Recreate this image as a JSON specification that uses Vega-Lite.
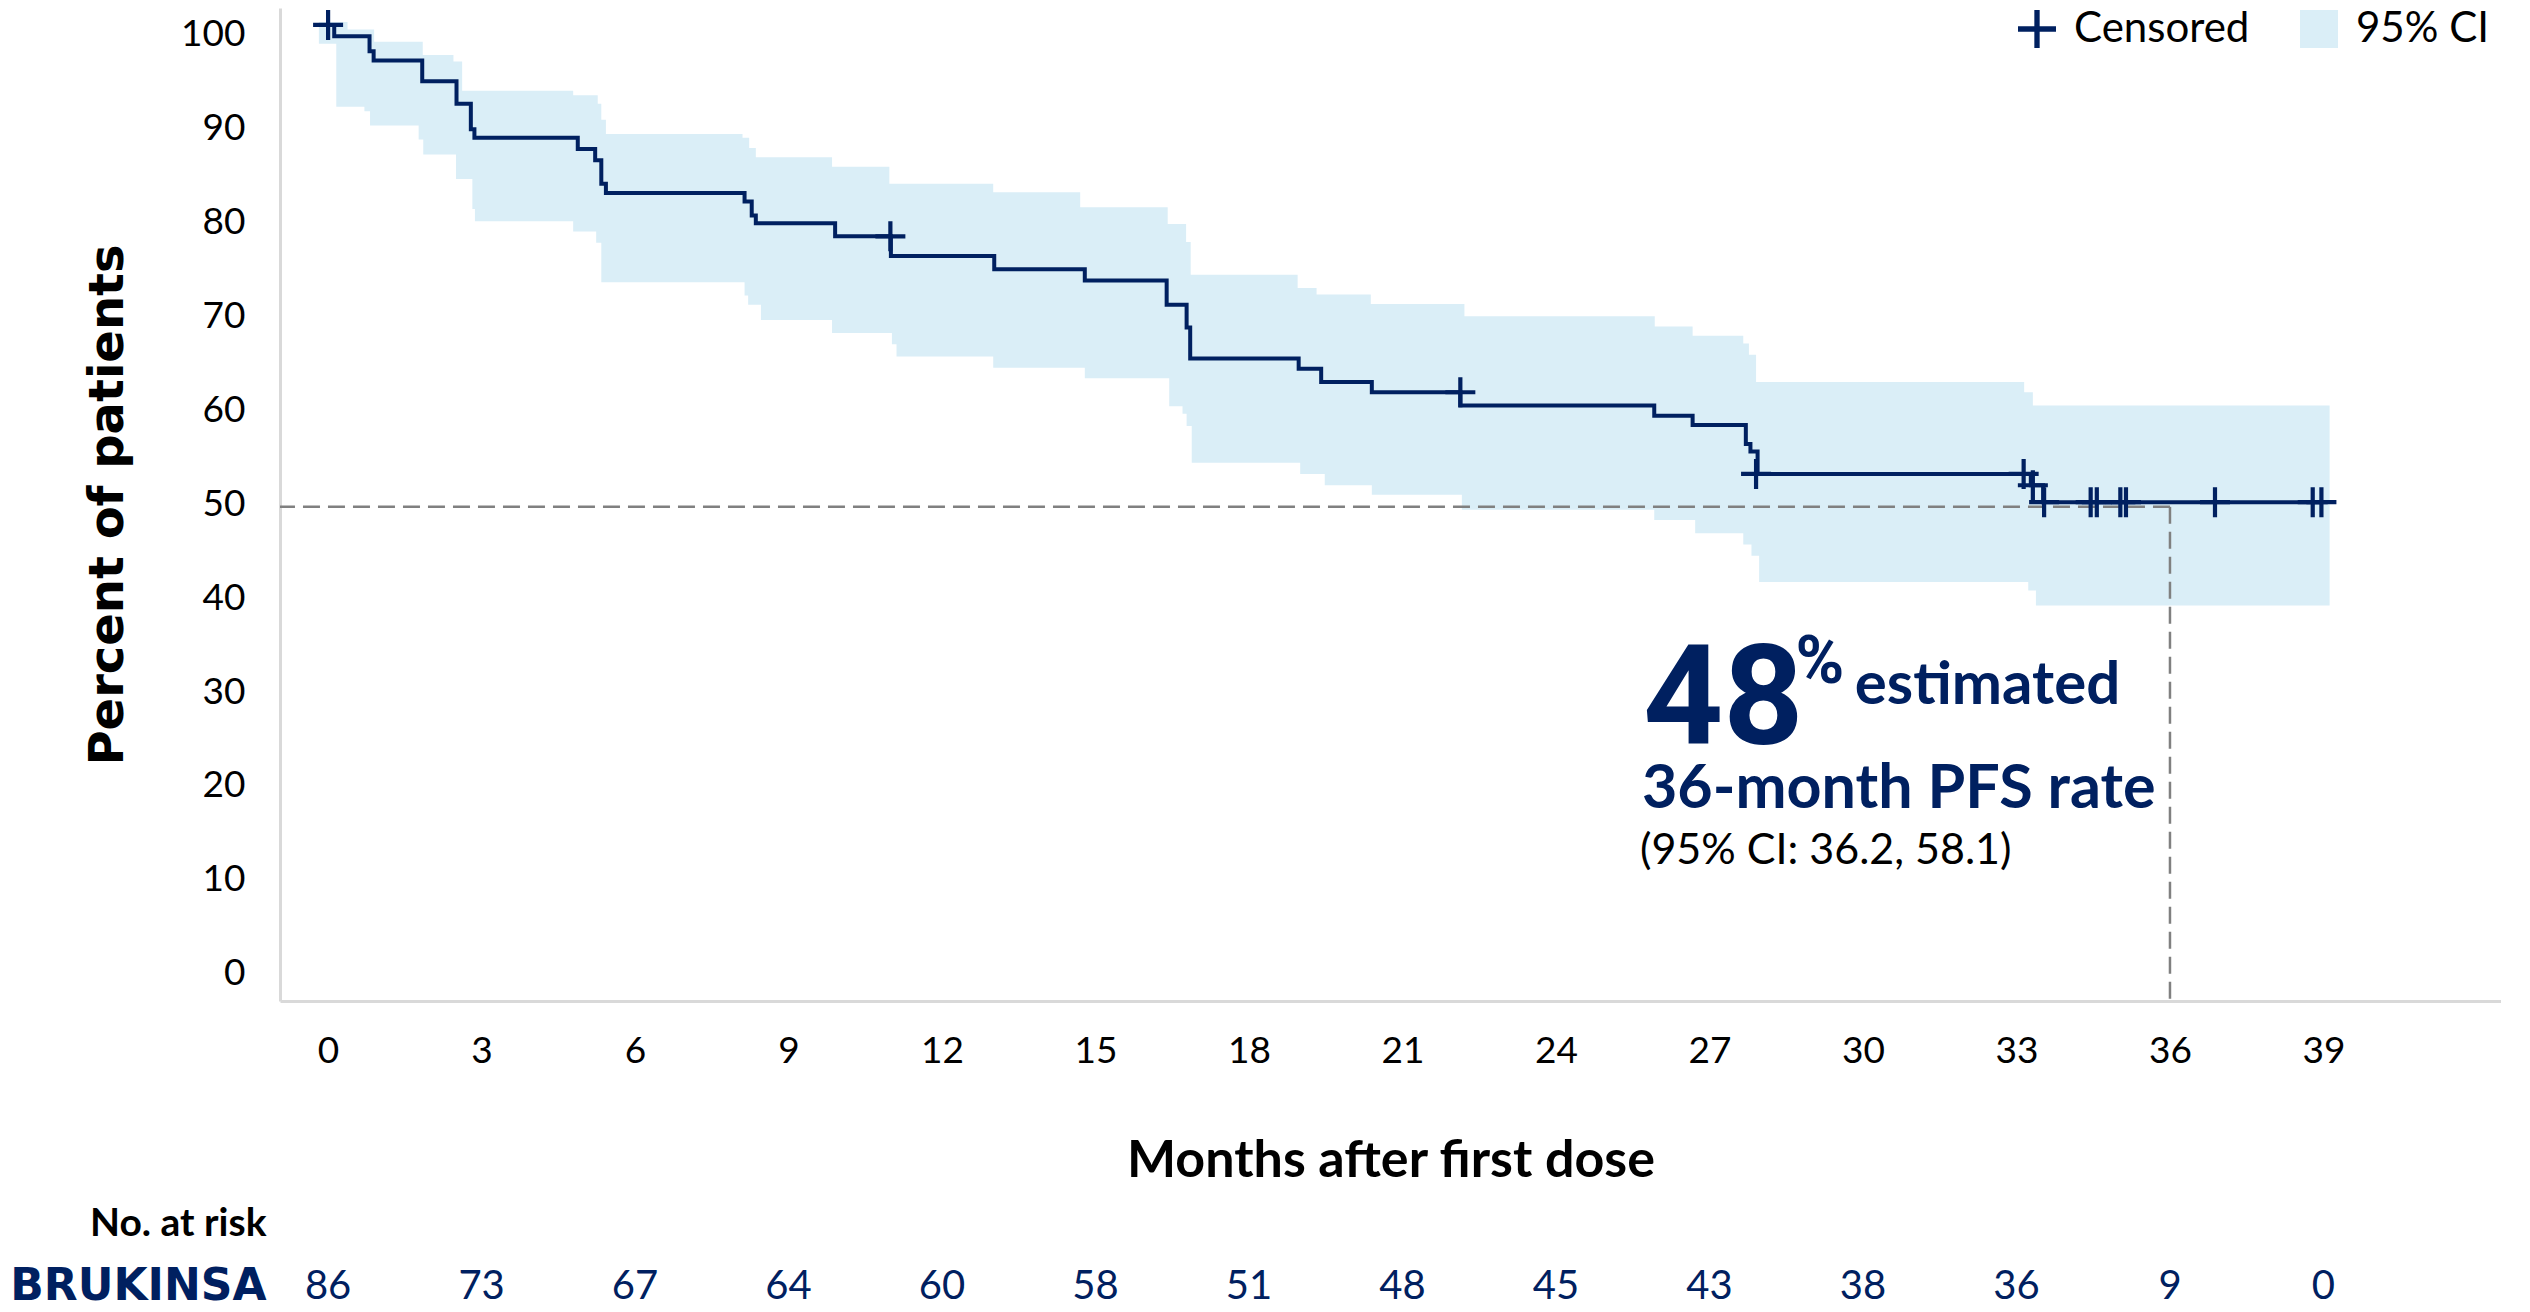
{
  "$schema": "https://vega.github.io/schema/vega-lite/v6.json",
  "background": "white",
  "padding": {"left": 9, "top": 8, "right": 0, "bottom": 0},
  "spacing": 6,
  "config": {
    "view": {"stroke": null},
    "font": "Lato",
    "axis": {"grid": false, "ticks": false, "domainColor": "#d9d9d9", "domainWidth": 3},
    "axisX": {"labelFont": "Lato", "labelFontSize": 37, "labelColor": "#000000", "labelPadding": 32, "titleFont": "Lato", "titleFontSize": 52, "titleFontWeight": "bold", "titleColor": "#000000", "titlePadding": 66, "labelFlush": false, "labelOverlap": false},
    "axisY": {"labelFont": "Lato", "labelFontSize": 37, "labelColor": "#000000", "labelPadding": 35, "labelOffset": 9.5, "titleFont": "DejaVu Sans", "titleFontSize": 48, "titleFontWeight": "bold", "titleColor": "#000000", "titlePadding": 48, "labelFlush": false, "labelOverlap": false}
  },
  "datasets": {
    "km": [
      {"t": 0, "s": 100}, {"t": 0.12, "s": 98.8}, {"t": 0.81, "s": 97.2}, {"t": 0.89, "s": 96.2},
      {"t": 1.84, "s": 94.0}, {"t": 2.51, "s": 91.6}, {"t": 2.79, "s": 88.9}, {"t": 2.86, "s": 88.0},
      {"t": 4.88, "s": 86.8}, {"t": 5.22, "s": 85.6}, {"t": 5.34, "s": 83.1}, {"t": 5.43, "s": 82.1},
      {"t": 8.14, "s": 81.2}, {"t": 8.28, "s": 79.7}, {"t": 8.36, "s": 78.9}, {"t": 9.91, "s": 77.5},
      {"t": 11.0, "s": 75.4}, {"t": 13.02, "s": 74.0}, {"t": 14.79, "s": 72.8}, {"t": 16.39, "s": 70.2},
      {"t": 16.78, "s": 67.8}, {"t": 16.85, "s": 64.5}, {"t": 18.97, "s": 63.4}, {"t": 19.41, "s": 62.0},
      {"t": 20.4, "s": 60.9}, {"t": 22.13, "s": 59.5}, {"t": 25.92, "s": 58.4}, {"t": 26.67, "s": 57.4},
      {"t": 27.71, "s": 55.4}, {"t": 27.8, "s": 54.6}, {"t": 27.94, "s": 52.2}, {"t": 33.28, "s": 51.0},
      {"t": 33.52, "s": 49.2}, {"t": 38.96, "s": 49.2}
    ],
    "cens": [
      {"t": 0, "s": 100}, {"t": 10.99, "s": 77.5}, {"t": 22.13, "s": 60.9}, {"t": 27.91, "s": 52.2},
      {"t": 33.14, "s": 52.2}, {"t": 33.32, "s": 51.0}, {"t": 33.54, "s": 49.2}, {"t": 34.45, "s": 49.2},
      {"t": 34.57, "s": 49.2}, {"t": 35.03, "s": 49.2}, {"t": 35.14, "s": 49.2}, {"t": 36.88, "s": 49.2},
      {"t": 38.79, "s": 49.2}, {"t": 38.96, "s": 49.2}
    ],
    "ci": [
      {"t": -0.18, "lo": 98.0, "hi": 100.3}, {"t": 0.16, "lo": 91.3, "hi": 100.3}, {"t": 0.38, "lo": 91.3, "hi": 99.5},
      {"t": 0.71, "lo": 90.8, "hi": 99.5}, {"t": 0.82, "lo": 89.3, "hi": 99.5}, {"t": 0.9, "lo": 89.3, "hi": 98.2},
      {"t": 1.77, "lo": 87.8, "hi": 98.2}, {"t": 1.85, "lo": 87.8, "hi": 96.8}, {"t": 1.86, "lo": 86.2, "hi": 96.8},
      {"t": 2.45, "lo": 86.2, "hi": 96.1}, {"t": 2.5, "lo": 83.6, "hi": 96.1}, {"t": 2.62, "lo": 83.6, "hi": 93.0},
      {"t": 2.82, "lo": 80.4, "hi": 93.0}, {"t": 2.87, "lo": 79.1, "hi": 93.0}, {"t": 4.79, "lo": 78.0, "hi": 92.5},
      {"t": 5.24, "lo": 76.8, "hi": 92.5}, {"t": 5.27, "lo": 76.8, "hi": 91.6}, {"t": 5.34, "lo": 72.6, "hi": 89.9},
      {"t": 5.43, "lo": 72.6, "hi": 88.4}, {"t": 8.1, "lo": 72.6, "hi": 88.0}, {"t": 8.14, "lo": 71.2, "hi": 88.0},
      {"t": 8.21, "lo": 70.2, "hi": 88.0}, {"t": 8.23, "lo": 70.2, "hi": 86.9}, {"t": 8.36, "lo": 70.2, "hi": 85.9},
      {"t": 8.46, "lo": 68.6, "hi": 85.9}, {"t": 9.85, "lo": 67.2, "hi": 84.9}, {"t": 10.97, "lo": 67.2, "hi": 83.1},
      {"t": 11.02, "lo": 66.0, "hi": 83.1}, {"t": 11.11, "lo": 64.7, "hi": 83.1}, {"t": 13.0, "lo": 63.5, "hi": 82.2},
      {"t": 14.7, "lo": 63.5, "hi": 80.6}, {"t": 14.79, "lo": 62.4, "hi": 80.6}, {"t": 16.41, "lo": 62.4, "hi": 78.8},
      {"t": 16.44, "lo": 59.4, "hi": 78.8}, {"t": 16.7, "lo": 58.6, "hi": 78.8}, {"t": 16.77, "lo": 58.6, "hi": 76.9},
      {"t": 16.78, "lo": 57.3, "hi": 76.9}, {"t": 16.86, "lo": 57.3, "hi": 73.4}, {"t": 16.88, "lo": 53.4, "hi": 73.4},
      {"t": 18.95, "lo": 53.4, "hi": 72.0}, {"t": 19.0, "lo": 52.2, "hi": 72.0}, {"t": 19.32, "lo": 52.2, "hi": 71.3},
      {"t": 19.48, "lo": 51.0, "hi": 71.3}, {"t": 20.38, "lo": 51.0, "hi": 70.3}, {"t": 20.4, "lo": 50.0, "hi": 70.3},
      {"t": 22.16, "lo": 48.4, "hi": 70.3}, {"t": 22.21, "lo": 48.4, "hi": 69.0}, {"t": 25.92, "lo": 47.3, "hi": 69.0},
      {"t": 25.93, "lo": 47.3, "hi": 67.9}, {"t": 26.67, "lo": 47.3, "hi": 66.9}, {"t": 26.72, "lo": 45.9, "hi": 66.9},
      {"t": 27.66, "lo": 44.7, "hi": 66.1}, {"t": 27.77, "lo": 44.7, "hi": 64.9}, {"t": 27.82, "lo": 43.5, "hi": 64.9},
      {"t": 27.91, "lo": 43.5, "hi": 62.0}, {"t": 27.97, "lo": 40.7, "hi": 62.0}, {"t": 33.15, "lo": 40.7, "hi": 60.9},
      {"t": 33.23, "lo": 39.8, "hi": 60.9}, {"t": 33.32, "lo": 39.8, "hi": 59.5}, {"t": 33.38, "lo": 38.2, "hi": 59.5},
      {"t": 39.12, "lo": 38.2, "hi": 59.5}
    ],
    "ref": [{"t": 36, "s": 48.7}],
    "one": [{}],
    "risk": [
      {"t": 0, "row": "BRUKINSA", "n": 86}, {"t": 3, "row": "BRUKINSA", "n": 73}, {"t": 6, "row": "BRUKINSA", "n": 67},
      {"t": 9, "row": "BRUKINSA", "n": 64}, {"t": 12, "row": "BRUKINSA", "n": 60}, {"t": 15, "row": "BRUKINSA", "n": 58},
      {"t": 18, "row": "BRUKINSA", "n": 51}, {"t": 21, "row": "BRUKINSA", "n": 48}, {"t": 24, "row": "BRUKINSA", "n": 45},
      {"t": 27, "row": "BRUKINSA", "n": 43}, {"t": 30, "row": "BRUKINSA", "n": 38}, {"t": 33, "row": "BRUKINSA", "n": 36},
      {"t": 36, "row": "BRUKINSA", "n": 9}, {"t": 39, "row": "BRUKINSA", "n": 0}
    ]
  },
  "vconcat": [
    {
      "width": 2221,
      "height": 993,
      "layer": [
        {
          "data": {"name": "ci"},
          "mark": {"type": "area", "interpolate": "step-after", "opacity": 1},
          "encoding": {
            "x": {"field": "t", "type": "quantitative", "title": "Months after first dose",
                  "scale": {"domain": [-0.94, 42.47], "nice": false, "zero": false},
                  "axis": {"values": [0, 3, 6, 9, 12, 15, 18, 21, 24, 27, 30, 33, 36, 39]}},
            "y": {"field": "lo", "type": "quantitative", "title": "Percent of patients",
                  "scale": {"domain": [-3.9, 101.8], "nice": false, "zero": false},
                  "axis": {"values": [0, 10, 20, 30, 40, 50, 60, 70, 80, 90, 100]}},
            "y2": {"field": "hi"},
            "color": {
              "datum": "95% CI",
              "scale": {"domain": ["Censored", "95% CI"], "range": ["#002060", "#daeef7"]},
              "legend": {
                "orient": "none", "legendX": 1736, "legendY": 0, "direction": "horizontal",
                "title": null, "padding": 0, "labelFont": "Lato", "labelFontSize": 42, "labelColor": "#000000",
                "labelLimit": 400, "symbolSize": 1444, "labelOffset": 16, "columnPadding": 48,
                "symbolStrokeWidth": 0, "symbolOpacity": 1
              }
            }
          }
        },
        {
          "data": {"name": "ref"},
          "mark": {"type": "rule", "color": "#808080", "strokeWidth": 2.5, "strokeDash": [17, 8]},
          "encoding": {
            "x": {"field": "t", "type": "quantitative"},
            "x2": {"datum": -0.94},
            "y": {"field": "s", "type": "quantitative"}
          }
        },
        {
          "data": {"name": "ref"},
          "mark": {"type": "rule", "color": "#808080", "strokeWidth": 2.5, "strokeDash": [17, 8]},
          "encoding": {
            "x": {"field": "t", "type": "quantitative"},
            "y": {"field": "s", "type": "quantitative"},
            "y2": {"datum": -3.9}
          }
        },
        {
          "data": {"name": "km"},
          "mark": {"type": "line", "interpolate": "step-after", "color": "#002060", "strokeWidth": 4},
          "encoding": {
            "x": {"field": "t", "type": "quantitative"},
            "y": {"field": "s", "type": "quantitative"}
          }
        },
        {
          "data": {"name": "cens"},
          "mark": {"type": "point", "filled": true, "size": 900, "opacity": 1, "strokeWidth": 0},
          "encoding": {
            "x": {"field": "t", "type": "quantitative"},
            "y": {"field": "s", "type": "quantitative"},
            "color": {"datum": "Censored"},
            "shape": {
              "datum": "Censored",
              "scale": {"domain": ["Censored", "95% CI"], "range": ["M-1,-0.14H-0.14V-1H0.14V-0.14H1V0.14H0.14V1H-0.14V0.14H-1Z", "square"]}
            }
          }
        },
        {
          "data": {"name": "one"},
          "mark": {"type": "text", "text": "48", "font": "Roboto", "fontWeight": "bold", "fontSize": 140, "color": "#002060", "align": "left", "baseline": "alphabetic"},
          "encoding": {"x": {"datum": 25.7, "type": "quantitative"}, "y": {"datum": 23.47, "type": "quantitative"}}
        },
        {
          "data": {"name": "one"},
          "mark": {"type": "text", "text": "%", "font": "Roboto", "fontWeight": "bold", "fontSize": 66, "color": "#002060", "align": "left", "baseline": "alphabetic"},
          "encoding": {"x": {"datum": 28.68, "type": "quantitative"}, "y": {"datum": 29.96, "type": "quantitative"}}
        },
        {
          "data": {"name": "one"},
          "mark": {"type": "text", "text": "estimated", "font": "Lato", "fontWeight": "bold", "fontSize": 60, "color": "#002060", "align": "left", "baseline": "alphabetic"},
          "encoding": {"x": {"datum": 29.84, "type": "quantitative"}, "y": {"datum": 27.73, "type": "quantitative"}}
        },
        {
          "data": {"name": "one"},
          "mark": {"type": "text", "text": "36-month PFS rate", "font": "Lato", "fontWeight": "bold", "fontSize": 61, "color": "#002060", "align": "left", "baseline": "alphabetic"},
          "encoding": {"x": {"datum": 25.68, "type": "quantitative"}, "y": {"datum": 16.66, "type": "quantitative"}}
        },
        {
          "data": {"name": "one"},
          "mark": {"type": "text", "text": "(95% CI: 36.2, 58.1)", "font": "Lato", "fontSize": 43, "color": "#000000", "align": "left", "baseline": "alphabetic"},
          "encoding": {"x": {"datum": 25.64, "type": "quantitative"}, "y": {"datum": 10.7, "type": "quantitative"}}
        }
      ]
    },
    {
      "width": 2221,
      "height": 126,
      "data": {"name": "risk"},
      "mark": {"type": "text", "font": "Lato", "fontSize": 40, "color": "#002060", "baseline": "middle", "align": "center"},
      "encoding": {
        "x": {"field": "t", "type": "quantitative", "scale": {"domain": [-0.94, 42.47], "nice": false, "zero": false}, "axis": null},
        "y": {
          "field": "row", "type": "nominal",
          "scale": {"domain": ["No. at risk", "BRUKINSA"], "type": "point", "padding": 0.5},
          "axis": {
            "title": null, "domain": false, "ticks": false, "labelPadding": 14, "labelOffset": 0, "labelLimit": 500,
            "labelFontWeight": "bold",
            "labelFont": {"condition": {"test": "datum.value === 'BRUKINSA'", "value": "DejaVu Sans"}, "value": "Lato"},
            "labelFontSize": {"condition": {"test": "datum.value === 'BRUKINSA'", "value": 44}, "value": 39},
            "labelColor": {"condition": {"test": "datum.value === 'BRUKINSA'", "value": "#002060"}, "value": "#000000"}
          }
        },
        "text": {"field": "n", "type": "quantitative"}
      }
    }
  ]
}
